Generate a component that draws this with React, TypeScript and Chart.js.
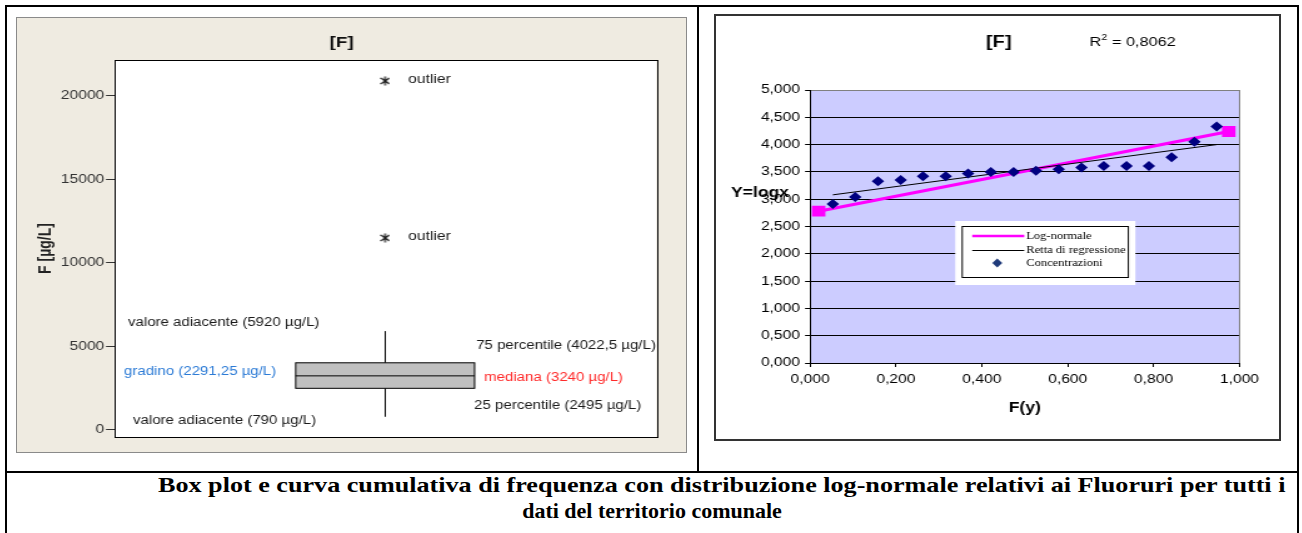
import React, { useEffect, useRef } from "react";
import { Chart, registerables } from "chart.js";
Chart.register(...registerables);

// The reference picture is stretched horizontally; canvases are drawn narrow and widened by CSS.
const S = 1.25;
const FONT = "'Liberation Sans', Arial, sans-serif";
const SERIF = "'Liberation Serif', 'Times New Roman', serif";

// ---------- Box plot (left) ----------
const boxWhiskerLow = [790];
const boxQ1 = [2495];
const boxMedian = [3240];
const boxQ3 = [4022.5];
const boxWhiskerHigh = [5920];
const boxStep = [2291.25];
const outlierValues = [20900, 11500];
const boxTickValues = [0, 5000, 10000, 15000, 20000];

// ---------- Cumulative frequency (right) ----------
const cumF = [0.053, 0.105, 0.158, 0.211, 0.263, 0.316, 0.368, 0.421, 0.474, 0.526, 0.579, 0.632, 0.684, 0.737, 0.789, 0.842, 0.895, 0.947];
const logConc = [2.91, 3.04, 3.33, 3.35, 3.42, 3.42, 3.47, 3.5, 3.5, 3.52, 3.55, 3.58, 3.61, 3.61, 3.61, 3.77, 4.05, 4.33];
const lognormF = [0.02, 0.975];
const lognormY = [2.78, 4.24];
const regF = [0.053, 0.947];
const regY = [3.08, 4.0];
const rSquared = [0.8062];
const legendLabels = ["Log-normale", "Retta di regressione", "Concentrazioni"];

const fmtIt = (v: number) => String(v).replace(".", ",");
const fmt3 = (v: number) => v.toFixed(3).replace(".", ",");

// ---------- geometry helpers (page px -> canvas px) ----------
const L_X0 = 17, L_Y0 = 18, L_W = 535, L_H = 434;
const lx = (p: number) => (p - L_X0) / S;
const ly = (p: number) => p - L_Y0;
const R_X0 = 716, R_Y0 = 16, R_W = 450, R_H = 423;
const rx = (p: number) => (p - R_X0) / S;
const ry = (p: number) => p - R_Y0;

function makeAsterisk() {
  const c = document.createElement("canvas");
  c.width = 8;
  c.height = 10;
  const g = c.getContext("2d")!;
  g.strokeStyle = "#111";
  g.lineWidth = 1.2;
  g.beginPath();
  g.moveTo(4, 0.5);
  g.lineTo(4, 9.5);
  g.moveTo(0.6, 2);
  g.lineTo(7.4, 8);
  g.moveTo(7.4, 2);
  g.lineTo(0.6, 8);
  g.stroke();
  return c;
}

const boxPlugin = {
  id: "boxPlotDeco",
  beforeDraw(chart: any) {
    const { ctx, chartArea: a } = chart;
    ctx.save();
    ctx.fillStyle = "#ffffff";
    ctx.fillRect(a.left, a.top, a.right - a.left, a.bottom - a.top);
    ctx.restore();
  },
  beforeDatasetsDraw(chart: any) {
    const { ctx, scales } = chart;
    const x = scales.x, y = scales.y;
    const xc = Math.round(x.getPixelForValue(0.5)) + 0.5;
    const xl = x.getPixelForValue(0.335);
    const xr = x.getPixelForValue(0.665);
    const yq1 = y.getPixelForValue(boxQ1[0]);
    const yq3 = y.getPixelForValue(boxQ3[0]);
    const ym = y.getPixelForValue(boxMedian[0]);
    const ylo = y.getPixelForValue(boxWhiskerLow[0]);
    const yhi = y.getPixelForValue(boxWhiskerHigh[0]);
    ctx.save();
    ctx.strokeStyle = "#000";
    ctx.lineWidth = 1;
    ctx.beginPath();
    ctx.moveTo(xc, yhi);
    ctx.lineTo(xc, yq3);
    ctx.moveTo(xc, yq1);
    ctx.lineTo(xc, ylo);
    ctx.stroke();
    ctx.fillStyle = "#C0C0C0";
    ctx.fillRect(xl, yq3, xr - xl, yq1 - yq3);
    ctx.strokeRect(xl, yq3, xr - xl, yq1 - yq3);
    ctx.beginPath();
    ctx.moveTo(xl, ym);
    ctx.lineTo(xr, ym);
    ctx.stroke();
    ctx.restore();
  },
  afterDraw(chart: any) {
    const { ctx, chartArea: a, scales } = chart;
    ctx.save();
    ctx.strokeStyle = "#000";
    ctx.lineWidth = 1;
    ctx.strokeRect(Math.round(a.left) + 0.5, Math.round(a.top) + 0.5, Math.round(a.right - a.left), Math.round(a.bottom - a.top));
    ctx.font = `12px ${FONT}`;
    ctx.textBaseline = "middle";
    ctx.textAlign = "left";
    const labels = [
      { t: `valore adiacente (${fmtIt(boxWhiskerHigh[0])} µg/L)`, x: 128, y: 323, c: "#1a1a1a" },
      { t: `75 percentile (${fmtIt(boxQ3[0])} µg/L)`, x: 476, y: 346, c: "#1a1a1a" },
      { t: `gradino (${fmtIt(boxStep[0])} µg/L)`, x: 124, y: 372, c: "#2C7BD6" },
      { t: `mediana (${fmtIt(boxMedian[0])} µg/L)`, x: 484, y: 378, c: "#FF2A2A" },
      { t: `25 percentile (${fmtIt(boxQ1[0])} µg/L)`, x: 474, y: 406, c: "#1a1a1a" },
      { t: `valore adiacente (${fmtIt(boxWhiskerLow[0])} µg/L)`, x: 133, y: 421, c: "#1a1a1a" },
    ];
    labels.forEach((l) => {
      ctx.fillStyle = l.c;
      ctx.fillText(l.t, lx(l.x), ly(l.y));
    });
    ctx.fillStyle = "#1a1a1a";
    ctx.font = `12.5px ${FONT}`;
    outlierValues.forEach((v) => {
      ctx.fillText("outlier", lx(408), scales.y.getPixelForValue(v) - 1);
    });
    ctx.restore();
  },
};

const cumPlugin = {
  id: "cumDeco",
  beforeDraw(chart: any) {
    const { ctx, chartArea: a } = chart;
    ctx.save();
    ctx.fillStyle = "#CCCCFF";
    ctx.fillRect(a.left, a.top, a.right - a.left, a.bottom - a.top);
    ctx.fillStyle = "#000";
    ctx.textBaseline = "middle";
    ctx.textAlign = "left";
    ctx.font = `bold 14px ${FONT}`;
    ctx.fillText("Y=logx", rx(731), ry(193));
    ctx.textAlign = "center";
    ctx.font = `bold 16px ${FONT}`;
    ctx.fillText("[F]", rx(998.5), ry(42.5));
    ctx.textAlign = "left";
    ctx.font = `13px ${FONT}`;
    let xx = rx(1089);
    ctx.fillText("R", xx, ry(42));
    xx += ctx.measureText("R").width + 0.3;
    ctx.font = `8.5px ${FONT}`;
    ctx.fillText("2", xx, ry(37.5));
    xx += ctx.measureText("2").width;
    ctx.font = `13px ${FONT}`;
    ctx.fillText(" = " + fmtIt(rSquared[0]), xx, ry(42));
    ctx.restore();
  },
  afterDraw(chart: any) {
    const { ctx, chartArea: a } = chart;
    ctx.save();
    // grey right frame of plot area
    ctx.strokeStyle = "#808080";
    ctx.lineWidth = 1;
    ctx.beginPath();
    ctx.moveTo(Math.round(a.right) + 0.5, a.top);
    ctx.lineTo(Math.round(a.right) + 0.5, a.bottom);
    ctx.stroke();
    // legend
    ctx.fillStyle = "#ffffff";
    ctx.fillRect(rx(955), ry(221), rx(1135) - rx(955), ry(285) - ry(221));
    ctx.strokeStyle = "#000";
    ctx.strokeRect(rx(962), Math.round(ry(226)) + 0.5, rx(1128) - rx(962), ry(277) - ry(226));
    const ys = [236, 250, 263];
    ctx.strokeStyle = "#FF00FF";
    ctx.lineWidth = 2.5;
    ctx.beginPath();
    ctx.moveTo(rx(972), ry(ys[0]));
    ctx.lineTo(rx(1024), ry(ys[0]));
    ctx.stroke();
    ctx.strokeStyle = "#000";
    ctx.lineWidth = 1;
    ctx.beginPath();
    ctx.moveTo(rx(972), ry(ys[1]) + 0.5);
    ctx.lineTo(rx(1024), ry(ys[1]) + 0.5);
    ctx.stroke();
    const dx = rx(997), dy = ry(ys[2]);
    ctx.fillStyle = "#1F3A7A";
    ctx.beginPath();
    ctx.moveTo(dx, dy - 4.5);
    ctx.lineTo(dx + 4, dy);
    ctx.lineTo(dx, dy + 4.5);
    ctx.lineTo(dx - 4, dy);
    ctx.closePath();
    ctx.fill();
    ctx.fillStyle = "#000";
    ctx.font = `10px ${SERIF}`;
    ctx.textBaseline = "middle";
    ctx.textAlign = "left";
    legendLabels.forEach((t, i) => ctx.fillText(t, rx(1026), ry(ys[i])));
    ctx.restore();
  },
};

function BoxPlot() {
  const ref = useRef<HTMLCanvasElement>(null);
  useEffect(() => {
    const star = makeAsterisk();
    const chart = new Chart(ref.current!, {
      type: "scatter",
      data: {
        datasets: [
          {
            label: "outlier",
            data: outlierValues.map((v) => ({ x: 0.5, y: v })),
            pointStyle: star as any,
            pointRadius: 5,
          },
        ],
      },
      options: {
        animation: false,
        responsive: false,
        events: [],
        layout: { padding: { left: 8, right: L_W - lx(656), top: 0, bottom: L_H - ly(437) } },
        plugins: {
          legend: { display: false },
          tooltip: { enabled: false },
          title: {
            display: true,
            text: "[F]",
            color: "#111",
            font: { family: FONT, size: 15, weight: "bold" },
            padding: { top: 16.3, bottom: 7.7 },
          },
        },
        scales: {
          x: { type: "linear", min: 0, max: 1, display: false },
          y: {
            type: "linear",
            min: -420,
            max: 22150,
            afterBuildTicks: (s: any) => {
              s.ticks = boxTickValues.map((v) => ({ value: v }));
            },
            afterFit: (s: any) => {
              s.width = lx(114) - 8;
            },
            ticks: { color: "#333", font: { family: FONT, size: 12.5 }, padding: 1.4, callback: (v: any) => String(v) },
            grid: { drawOnChartArea: false, drawTicks: true, tickLength: 6.4, color: "#333" },
            border: { display: false },
            title: {
              display: true,
              text: "F [µg/L]",
              color: "#222",
              font: { family: FONT, size: 14, weight: "bold" },
              padding: { top: 6.6, bottom: 0 },
            },
          },
        },
      },
      plugins: [boxPlugin],
    });
    return () => chart.destroy();
  }, []);
  return (
    <canvas
      ref={ref}
      width={L_W}
      height={L_H}
      style={{ position: "absolute", left: 0, top: 0, width: L_W * S + "px", height: L_H + "px" }}
    />
  );
}

function CumChart() {
  const ref = useRef<HTMLCanvasElement>(null);
  useEffect(() => {
    const chart = new Chart(ref.current!, {
      type: "scatter",
      data: {
        datasets: [
          {
            label: legendLabels[2],
            data: cumF.map((f, i) => ({ x: f, y: logConc[i] })),
            pointStyle: "rectRot",
            pointRadius: 5,
            backgroundColor: "#000080",
            borderColor: "#000080",
            borderWidth: 0,
            order: 0,
          },
          {
            label: legendLabels[1],
            data: regF.map((f, i) => ({ x: f, y: regY[i] })),
            showLine: true,
            borderColor: "#000",
            borderWidth: 1,
            pointRadius: 0,
            order: 1,
          },
          {
            label: legendLabels[0],
            data: lognormF.map((f, i) => ({ x: f, y: lognormY[i] })),
            showLine: true,
            borderColor: "#FF00FF",
            borderWidth: 3,
            pointStyle: "rect",
            pointRadius: 5.5,
            backgroundColor: "#FF00FF",
            order: 2,
          },
        ],
      },
      options: {
        animation: false,
        responsive: false,
        events: [],
        layout: { padding: { left: 0, right: R_W - rx(1239), top: ry(90), bottom: 0 } },
        plugins: { legend: { display: false }, tooltip: { enabled: false } },
        scales: {
          x: {
            type: "linear",
            min: 0,
            max: 1,
            afterFit: (s: any) => {
              s.height = R_H - ry(363);
            },
            ticks: { stepSize: 0.2, color: "#000", font: { family: FONT, size: 12.5 }, padding: 5.5, callback: (v: any) => fmt3(Number(v)) },
            grid: { drawOnChartArea: false, drawTicks: true, tickLength: 4, color: "#000" },
            border: { display: true, color: "#000", width: 1 },
            title: {
              display: true,
              text: "F(y)",
              color: "#000",
              font: { family: FONT, size: 14, weight: "bold" },
              padding: { top: 0, bottom: 22 },
            },
          },
          y: {
            type: "linear",
            min: 0,
            max: 5,
            afterFit: (s: any) => {
              s.width = rx(810);
            },
            ticks: { stepSize: 0.5, color: "#000", font: { family: FONT, size: 12.5 }, padding: 4, callback: (v: any) => fmt3(Number(v)) },
            grid: {
              drawTicks: true,
              tickLength: 4,
              tickColor: "#000",
              color: (c: any) => (c.tick && c.tick.value === 5 ? "#808080" : "#000"),
            },
            border: { display: true, color: "#000", width: 1 },
          },
        },
      },
      plugins: [cumPlugin],
    });
    return () => chart.destroy();
  }, []);
  return (
    <canvas
      ref={ref}
      width={R_W}
      height={R_H}
      style={{ position: "absolute", left: 0, top: 0, width: R_W * S + "px", height: R_H + "px" }}
    />
  );
}

const line = (l: number, t: number, w: number, h: number) => (
  <div style={{ position: "absolute", left: l, top: t, width: w, height: h, background: "#000" }} />
);

export default function App() {
  return (
    <div style={{ position: "fixed", left: 0, top: 0, width: 1302, height: 533, background: "#fff", overflow: "hidden" }}>
      {line(5, 5, 1294, 2)}
      {line(5, 5, 2, 528)}
      {line(1297, 5, 2, 528)}
      {line(697, 5, 2, 468)}
      {line(5, 471, 1294, 2)}
      <div
        style={{
          position: "absolute",
          left: 16,
          top: 17,
          width: 671,
          height: 436,
          background: "#EFEBE1",
          border: "1px solid #8a8a8a",
          boxSizing: "border-box",
        }}
      >
        <BoxPlot />
      </div>
      <div
        style={{
          position: "absolute",
          left: 714,
          top: 14,
          width: 567,
          height: 427,
          background: "#fff",
          border: "2px solid #333",
          boxSizing: "border-box",
        }}
      >
        <CumChart />
      </div>
      <div
        style={{
          position: "absolute",
          left: 158,
          top: 474,
          font: `bold 22px ${SERIF}`,
          lineHeight: "22px",
          whiteSpace: "nowrap",
          transform: "scaleX(1.188)",
          transformOrigin: "0 0",
        }}
      >
        Box plot e curva cumulativa di frequenza con distribuzione log-normale relativi ai Fluoruri per tutti i
      </div>
      <div
        style={{
          position: "absolute",
          left: 0,
          width: 1304,
          top: 500,
          textAlign: "center",
          font: `bold 22px ${SERIF}`,
          lineHeight: "22px",
          whiteSpace: "nowrap",
          transform: "scaleX(1.0)",
          transformOrigin: "652px 0",
        }}
      >
        dati del territorio comunale
      </div>
    </div>
  );
}
